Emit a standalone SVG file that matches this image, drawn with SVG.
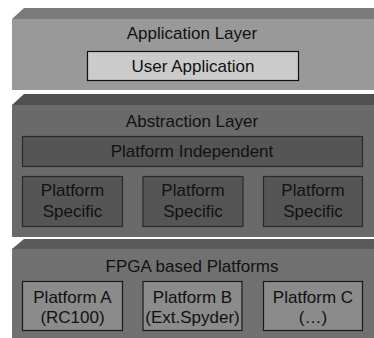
<svg xmlns="http://www.w3.org/2000/svg" width="374" height="338" viewBox="0 0 374 338">
  <style>
    text { font-family: "Liberation Sans", Arial, sans-serif; font-size: 17px; fill: #111; text-anchor: middle; }
    .box { stroke-width: 1.2; }
  </style>
  <rect width="374" height="338" fill="#ffffff"/>

  <!-- Application layer slab -->
  <g id="application-layer">
    <polygon points="24,8 374,8 374,19 12,19" fill="#7a7a7a"/>
    <rect x="12" y="19" width="362" height="71" fill="#999999"/>
    <text x="192" y="39">Application Layer</text>
  </g>
  <g id="user-application">
    <rect class="box" x="87.5" y="51.5" width="211" height="29" fill="#cbcbcb" stroke="#111"/>
    <text x="193" y="72">User Application</text>
  </g>

  <!-- Abstraction layer slab -->
  <g id="abstraction-layer">
    <polygon points="24,94 374,94 374,105 12,105" fill="#505050"/>
    <rect x="12" y="105" width="362" height="132" fill="#6a6a6a"/>
    <text x="192" y="127">Abstraction Layer</text>
  </g>
  <g id="platform-independent">
    <rect class="box" x="22.5" y="136.5" width="340" height="30" fill="#555555" stroke="#2a2a2a"/>
    <text x="192" y="157">Platform Independent</text>
  </g>
  <g id="platform-specific-1">
    <rect class="box" x="22.5" y="176.5" width="100" height="50" fill="#555555" stroke="#2a2a2a"/>
    <text x="72.5" y="196">Platform</text>
    <text x="72.5" y="217">Specific</text>
  </g>
  <g id="platform-specific-2">
    <rect class="box" x="143" y="176.5" width="100" height="50" fill="#555555" stroke="#2a2a2a"/>
    <text x="193" y="196">Platform</text>
    <text x="193" y="217">Specific</text>
  </g>
  <g id="platform-specific-3">
    <rect class="box" x="263.5" y="176.5" width="99" height="50" fill="#555555" stroke="#2a2a2a"/>
    <text x="313" y="196">Platform</text>
    <text x="313" y="217">Specific</text>
  </g>

  <!-- FPGA platform slab -->
  <g id="fpga-layer">
    <polygon points="24,239 374,239 374,249 12,249" fill="#5a5a5a"/>
    <rect x="12" y="249" width="362" height="89" fill="#717171"/>
    <text x="192" y="272">FPGA based Platforms</text>
  </g>
  <g id="platform-a">
    <rect class="box" x="22.5" y="281.5" width="100" height="49" fill="#8b8b8b" stroke="#1a1a1a"/>
    <text x="72.5" y="303">Platform A</text>
    <text x="72.5" y="323">(RC100)</text>
  </g>
  <g id="platform-b">
    <rect class="box" x="143" y="281.5" width="99" height="49" fill="#8b8b8b" stroke="#1a1a1a"/>
    <text x="192.5" y="303">Platform B</text>
    <text x="192.5" y="323">(Ext.Spyder)</text>
  </g>
  <g id="platform-c">
    <rect class="box" x="263.5" y="281.5" width="99" height="49" fill="#8b8b8b" stroke="#1a1a1a"/>
    <text x="313" y="303">Platform C</text>
    <text x="313" y="323">(…)</text>
  </g>

  <g id="connectors"/>
</svg>
